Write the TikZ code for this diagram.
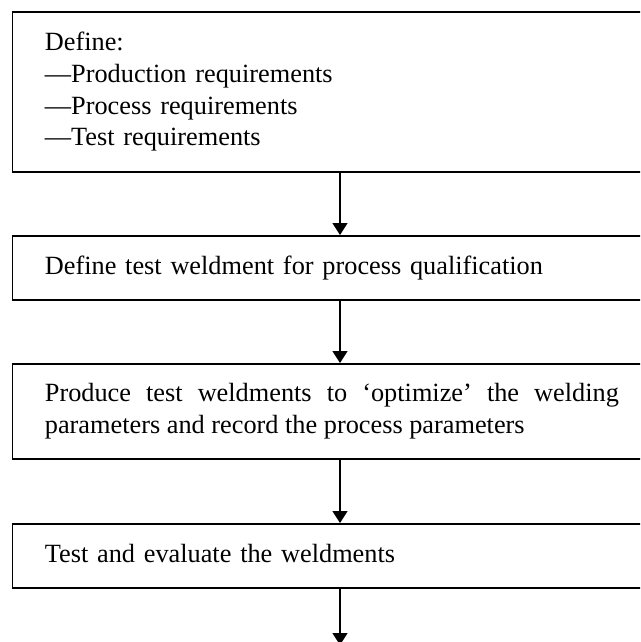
\documentclass[tikz,border=0pt]{standalone}
\usepackage{fontspec}
\setmainfont{Liberation Serif}
\usetikzlibrary{arrows.meta}
\begin{document}
\begin{tikzpicture}[x=1pt,y=1pt,
  box/.style={draw,line width=1.8pt,anchor=north west,inner xsep=32.5pt,inner ysep=0pt,
    text width=574pt,font=\fontsize{26.3}{31.7}\selectfont},
  arr/.style={line width=1.6pt,-{Triangle[width=15pt,length=12pt]}}]
\useasboundingbox (0,0) rectangle (640,-642);
\clip (0,0) rectangle (640,-642);
\node[box,align=left,minimum height=160pt] (b1) at (11.5,-11)
  {\strut Define:\\---Production requirements\\---Process requirements\\---Test requirements\strut};
\node[box,align=left,minimum height=64pt] (b2) at (11.5,-235)
  {\strut Define test weldment for process qualification\strut};
\node[box,align=justify,minimum height=95pt] (b3) at (11.5,-363)
  {\strut Produce test weldments to `optimize' the welding\linebreak parameters and record the process parameters\strut};
\node[box,align=left,minimum height=64pt] (b4) at (11.5,-523)
  {\strut Test and evaluate the weldments\strut};
\coordinate (ax) at (340,0);
\coordinate (end) at (340,-645);
\draw[arr] (b1.south -| ax) -- (b2.north -| ax);
\draw[arr] (b2.south -| ax) -- (b3.north -| ax);
\draw[arr] (b3.south -| ax) -- (b4.north -| ax);
\draw[arr] (b4.south -| ax) -- (end);
\end{tikzpicture}
\end{document}
